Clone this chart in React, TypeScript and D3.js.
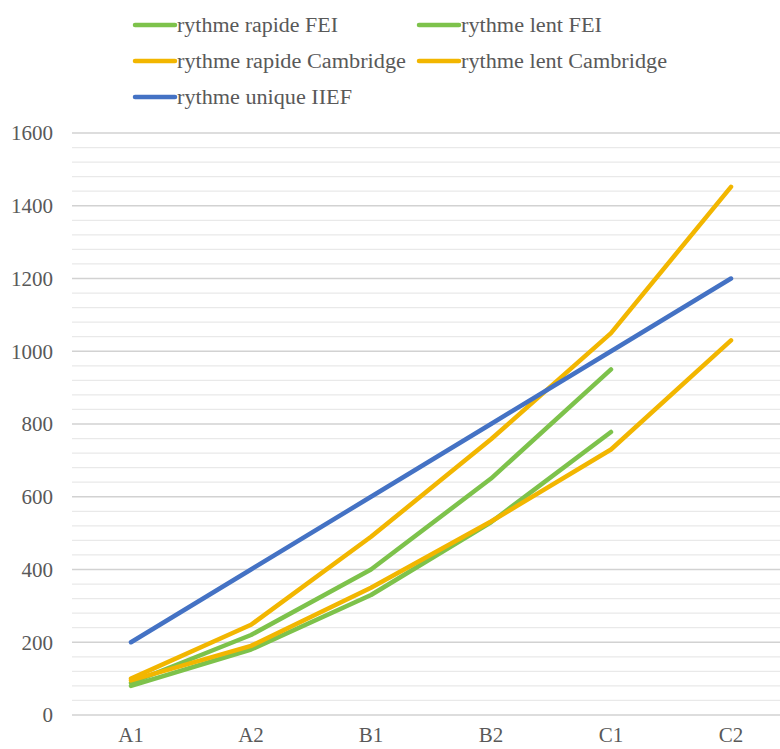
import React from "react";
import * as d3 from "d3";

const categories = ["A1", "A2", "B1", "B2", "C1", "C2"];
const rapideFEI = [88, 220, 400, 650, 950];
const lentFEI = [80, 180, 330, 530, 778];
const rapideCambridge = [100, 248, 490, 758, 1050, 1452];
const lentCambridge = [95, 190, 350, 532, 730, 1030];
const uniqueIIEF = [200, 400, 600, 800, 1000, 1200];
const yTicks = [0, 200, 400, 600, 800, 1000, 1200, 1400, 1600];

const GREEN = "#7DC24B";
const YELLOW = "#F2B600";
const BLUE = "#4472C4";

const series = [
  { name: "rythme rapide FEI", values: rapideFEI, color: GREEN },
  { name: "rythme lent FEI", values: lentFEI, color: GREEN },
  { name: "rythme rapide Cambridge", values: rapideCambridge, color: YELLOW },
  { name: "rythme lent Cambridge", values: lentCambridge, color: YELLOW },
  { name: "rythme unique IIEF", values: uniqueIIEF, color: BLUE },
];

const legendLayout = [
  { x: 135, y: 25, w: 161 },
  { x: 419, y: 25, w: 141 },
  { x: 135, y: 61, w: 229 },
  { x: 419, y: 61, w: 206 },
  { x: 135, y: 97, w: 175 },
];

export default function App() {
  const W = 780;
  const H = 749;
  const x = d3.scalePoint<string>().domain(categories).range([71, 791]).padding(0.5);
  const y = d3.scaleLinear().domain([0, 1600]).range([715, 133]);
  const minor = d3.range(0, 1601, 40).filter((v) => v % 200 !== 0);
  const line = d3
    .line<number>()
    .x((_, i) => x(categories[i]) as number)
    .y((v) => y(v));
  const font =
    "'Liberation Serif', 'Times New Roman', Times, Tinos, 'Noto Serif', 'DejaVu Serif', FreeSerif, serif";
  return (
    <svg
      width={W}
      height={H}
      style={{ position: "absolute", left: 0, top: 0, background: "#fff", fontFamily: font }}
    >
      <rect width={W} height={H} fill="#fff" />
      {minor.map((v) => (
        <line key={"m" + v} x1={72} x2={W} y1={y(v)} y2={y(v)} stroke="#e9e9e9" strokeWidth={1.2} />
      ))}
      {yTicks.map((v) => (
        <line key={"g" + v} x1={72} x2={W} y1={y(v)} y2={y(v)} stroke="#d2d2d2" strokeWidth={1.4} />
      ))}
      {yTicks.map((v) => (
        <text
          key={"t" + v}
          x={53}
          y={y(v)}
          dy="0.35em"
          textAnchor="end"
          style={{ fontFamily: font }}
          fontSize={21}
          fill="#595959"
        >
          {v}
        </text>
      ))}
      {categories.map((c) => (
        <text
          key={c}
          x={x(c)}
          y={742}
          textAnchor="middle"
          style={{ fontFamily: font }}
          fontSize={21}
          fill="#595959"
        >
          {c}
        </text>
      ))}
      {series.map((s) => (
        <path
          key={s.name}
          d={line(s.values) || ""}
          fill="none"
          stroke={s.color}
          strokeWidth={4.5}
          strokeLinecap="round"
          strokeLinejoin="round"
        />
      ))}
      {series.map((s, i) => {
        const L = legendLayout[i];
        return (
          <g key={"lg" + s.name}>
            <line
              x1={L.x}
              x2={L.x + 40}
              y1={L.y}
              y2={L.y}
              stroke={s.color}
              strokeWidth={4.5}
              strokeLinecap="round"
            />
            <text
              x={L.x + 42}
              y={L.y}
              dy="0.33em"
              style={{ fontFamily: font }}
              fontSize={20}
              fill="#595959"
              textLength={L.w}
              lengthAdjust="spacingAndGlyphs"
            >
              {s.name}
            </text>
          </g>
        );
      })}
    </svg>
  );
}
